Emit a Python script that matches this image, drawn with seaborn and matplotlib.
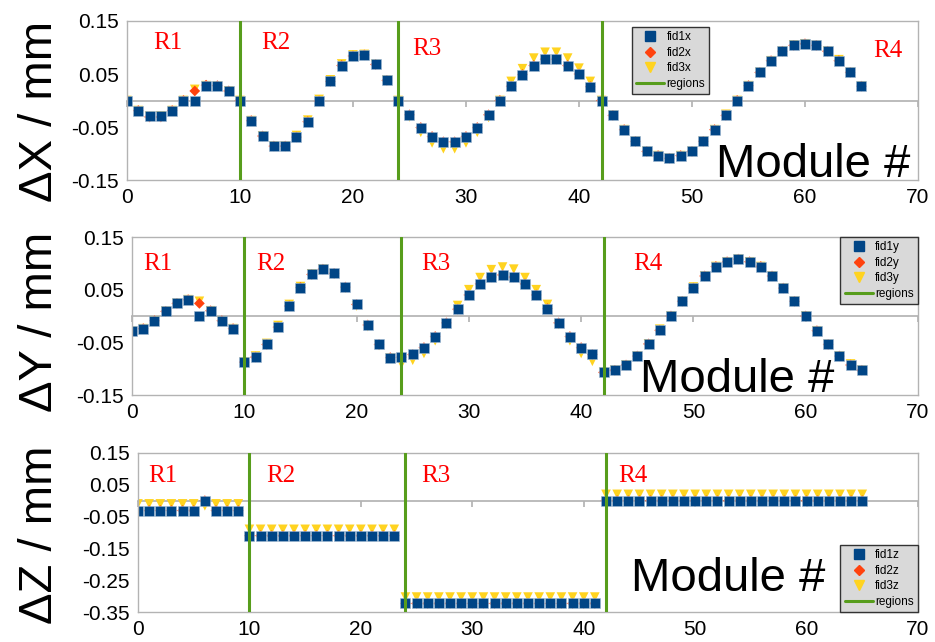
import matplotlib
matplotlib.use('Agg')
import matplotlib.pyplot as plt
from matplotlib.lines import Line2D
import seaborn as sns

modules = list(range(66))
region_edges = [10, 24, 42]
region_names = ['R1', 'R2', 'R3', 'R4']

# dX per module (mm)
fid1x = [0.0, -0.019, -0.030, -0.029, -0.019, 0.0, 0.0, 0.028, 0.027, 0.018,
         0.0, -0.038, -0.067, -0.086, -0.086, -0.069, -0.040, -0.001, 0.036, 0.066,
         0.084, 0.086, 0.068, 0.038, 0.0, -0.027, -0.051, -0.068, -0.078, -0.078,
         -0.068, -0.051, -0.027, 0.0, 0.027, 0.049, 0.066, 0.078, 0.078, 0.066,
         0.050, 0.026, 0.0, -0.028, -0.055, -0.077, -0.096, -0.104, -0.109, -0.104,
         -0.096, -0.077, -0.055, -0.028, 0.0, 0.028, 0.053, 0.075, 0.093, 0.104,
         0.107, 0.104, 0.093, 0.075, 0.053, 0.027]
fid2x = [0.0, -0.019, -0.031, -0.031, -0.019, 0.0, 0.018, 0.029, 0.028, 0.018,
         0.0, -0.038, -0.067, -0.086, -0.086, -0.069, -0.040, -0.001, 0.036, 0.066,
         0.084, 0.086, 0.068, 0.038, 0.0, -0.027, -0.051, -0.068, -0.078, -0.078,
         -0.068, -0.051, -0.027, 0.0, 0.027, 0.049, 0.066, 0.078, 0.078, 0.066,
         0.050, 0.026, 0.0, -0.028, -0.055, -0.077, -0.096, -0.104, -0.109, -0.104,
         -0.096, -0.077, -0.055, -0.028, 0.0, 0.028, 0.053, 0.075, 0.093, 0.104,
         0.107, 0.104, 0.093, 0.075, 0.053, 0.027]
fid3x = [0.0, -0.019, -0.030, -0.029, -0.019, 0.0, 0.021, 0.028, 0.027, 0.018,
         0.0, -0.038, -0.067, -0.086, -0.086, -0.066, -0.037, 0.002, 0.039, 0.069,
         0.086, 0.087, 0.068, 0.038, 0.0, -0.031, -0.060, -0.080, -0.091, -0.091,
         -0.080, -0.060, -0.032, 0.0, 0.036, 0.060, 0.080, 0.091, 0.091, 0.080,
         0.061, 0.036, 0.0, -0.028, -0.055, -0.077, -0.096, -0.104, -0.109, -0.104,
         -0.096, -0.077, -0.055, -0.026, 0.0, 0.028, 0.053, 0.075, 0.093, 0.105,
         0.107, 0.104, 0.093, 0.077, 0.053, 0.027]

# dY per module (mm)
fid1y = [-0.029, -0.024, -0.009, 0.009, 0.024, 0.031, 0.0, 0.010, -0.009, -0.024,
         -0.0875, -0.078, -0.054, -0.021, 0.019, 0.054, 0.079, 0.089, 0.081, 0.055,
         0.022, -0.017, -0.054, -0.079, -0.078, -0.073, -0.060, -0.039, -0.013, 0.013,
         0.040, 0.061, 0.074, 0.078, 0.074, 0.061, 0.040, 0.014, -0.013, -0.039,
         -0.060, -0.073, -0.107, -0.103, -0.093, -0.076, -0.053, -0.027, 0.0, 0.028,
         0.053, 0.076, 0.094, 0.103, 0.108, 0.103, 0.094, 0.076, 0.053, 0.028,
         0.0, -0.028, -0.054, -0.076, -0.093, -0.103]
fid2y = [-0.029, -0.024, -0.009, 0.009, 0.024, 0.031, 0.024, 0.010, -0.009, -0.024,
         -0.0875, -0.078, -0.054, -0.021, 0.019, 0.054, 0.079, 0.089, 0.081, 0.055,
         0.022, -0.017, -0.054, -0.079, -0.078, -0.073, -0.060, -0.039, -0.013, 0.013,
         0.040, 0.061, 0.074, 0.078, 0.074, 0.061, 0.040, 0.014, -0.013, -0.039,
         -0.060, -0.073, -0.107, -0.103, -0.093, -0.076, -0.053, -0.027, 0.0, 0.028,
         0.053, 0.076, 0.094, 0.103, 0.108, 0.103, 0.094, 0.076, 0.053, 0.028,
         0.0, -0.028, -0.054, -0.076, -0.093, -0.103]
fid3y = [-0.029, -0.024, -0.009, 0.009, 0.024, 0.031, 0.028, 0.010, -0.010, -0.024,
         -0.0875, -0.076, -0.052, -0.018, 0.022, 0.056, 0.080, 0.089, 0.080, 0.053,
         0.019, -0.020, -0.056, -0.080, -0.091, -0.084, -0.071, -0.047, -0.016, 0.020,
         0.050, 0.073, 0.088, 0.093, 0.089, 0.073, 0.050, 0.022, -0.016, -0.047,
         -0.071, -0.086, -0.107, -0.103, -0.093, -0.076, -0.053, -0.025, 0.0, 0.028,
         0.055, 0.076, 0.094, 0.103, 0.108, 0.103, 0.094, 0.076, 0.053, 0.028,
         0.0, -0.028, -0.054, -0.076, -0.091, -0.103]

# dZ per module (mm): constant per region
fid1z = ([-0.031] * 6 + [0.0] + [-0.031] * 3 + [-0.110] * 14
         + [-0.323] * 18 + [0.0] * 24)
fid2z = ([-0.031] * 6 + [0.0] + [-0.031] * 3 + [-0.110] * 14
         + [-0.323] * 18 + [0.0] * 24)
fid3z = ([-0.010] * 6 + [-0.016] + [-0.010] * 3 + [-0.090] * 14
         + [-0.303] * 18 + [0.020] * 24)

blue = '#004586'
orange = '#ff420e'
yellow = '#ffd320'
green = '#579d1c'
grey = '#b3b3b3'

sns.set_theme(style='white')
plt.rcParams['font.family'] = ['Liberation Sans', 'DejaVu Sans']
plt.rcParams['axes.unicode_minus'] = False
plt.rcParams['text.color'] = 'black'

fig = plt.figure(figsize=(9.35, 6.42), dpi=100)


def panel(rect, axis, fid1, fid2, fid3, ylim, yticks, zero_frac,
          label_pos, module_pos, leg_loc, leg_anchor, ylabel_y):
    ax = fig.add_axes(rect)
    sns.scatterplot(x=modules, y=fid3, marker='v', color=yellow, s=48,
                    edgecolor='none', ax=ax, zorder=2)
    sns.scatterplot(x=modules, y=fid2, marker='D', color=orange, s=30,
                    edgecolor='none', ax=ax, zorder=2)
    sns.scatterplot(x=modules, y=fid1, marker='s', color=blue, s=54,
                    edgecolor='#9fb8d0', linewidth=0.4, ax=ax, zorder=2)
    for xe in region_edges:
        ax.axvline(xe, color=green, lw=2.2, zorder=3)

    ax.set_xlim(0, 70)
    ax.set_ylim(*ylim)
    ax.set_xticks(range(0, 71, 10))
    ax.set_yticks(yticks)
    ax.set_yticklabels([f'{v:.2f}' for v in yticks])
    ax.tick_params(axis='both', direction='out', length=4, color=grey,
                   labelsize=15, labelcolor='black', pad=2)
    for sp in ax.spines.values():
        sp.set_color(grey)
        sp.set_linewidth(1)

    # zero line with its own small tick marks
    sec = ax.secondary_xaxis(zero_frac)
    sec.set_xticks(range(0, 71, 10))
    sec.tick_params(direction='in', length=4, color=grey,
                    labeltop=False, labelbottom=False)
    for sp in sec.spines.values():
        sp.set_color(grey)

    for name, (px, py) in zip(region_names, label_pos):
        ax.text(px, py, name, color='red', fontsize=18,
                family=['Liberation Serif', 'DejaVu Serif'],
                ha='center', va='center')

    ax.text(module_pos[0], module_pos[1], 'Module #', transform=ax.transAxes,
            ha='right', va='baseline', fontsize=34, color='black')

    fig.text(0.043, ylabel_y, f'Δ{axis.upper()} / mm', rotation=90,
             ha='center', va='center', fontsize=34, color='black')

    handles = [
        Line2D([], [], ls='none', marker='s', color=blue, markersize=7),
        Line2D([], [], ls='none', marker='D', color=orange, markersize=5),
        Line2D([], [], ls='none', marker='v', color=yellow, markersize=7),
        Line2D([], [], color=green, lw=2.2),
    ]
    labels = [f'fid1{axis}', f'fid2{axis}', f'fid3{axis}', 'regions']
    leg = ax.legend(handles, labels, loc=leg_loc, bbox_to_anchor=leg_anchor,
                    fontsize=8.5, frameon=True, fancybox=False, framealpha=1,
                    facecolor='#d9d9d9', edgecolor='#333333',
                    borderaxespad=0, borderpad=0.35, labelspacing=0.3,
                    handlelength=2.4, handletextpad=0.2)
    leg.get_frame().set_linewidth(1)
    for t in leg.get_texts():
        t.set_color('black')
    return ax


panel([0.1358, 0.7196, 0.8460, 0.2477], 'x', fid1x, fid2x, fid3x,
      (-0.15, 0.15), [-0.15, -0.05, 0.05, 0.15], 0.5,
      [(3.6, 0.108), (13.2, 0.108), (26.5, 0.097), (67.3, 0.093)],
      (0.99, 0.02), 'upper left', (0.638, 0.962), 0.827)

panel([0.1412, 0.3847, 0.8406, 0.2461], 'y', fid1y, fid2y, fid3y,
      (-0.15, 0.15), [-0.15, -0.05, 0.05, 0.15], 0.5,
      [(2.3, 0.098), (12.4, 0.098), (27.1, 0.098), (45.9, 0.098)],
      (0.894, 0.02), 'upper right', (1.0, 1.0), 0.498)

panel([0.1476, 0.0467, 0.8342, 0.2477], 'z', fid1z, fid2z, fid3z,
      (-0.35, 0.15), [-0.35, -0.25, -0.15, -0.05, 0.05, 0.15], 0.7,
      [(2.2, 0.079), (12.8, 0.079), (26.7, 0.079), (44.4, 0.079)],
      (0.881, 0.132), 'lower right', (1.0, 0.0), 0.167)

fig.savefig('out.png', dpi=100)
